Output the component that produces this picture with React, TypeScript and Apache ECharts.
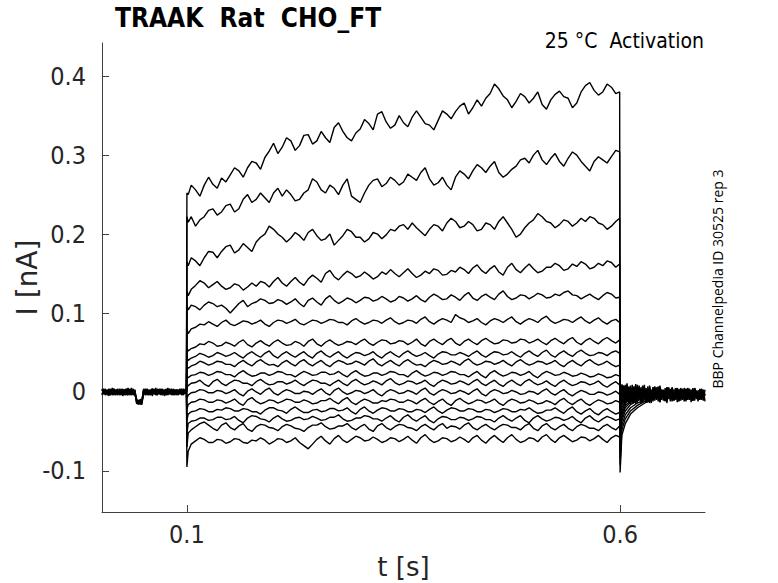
import React, { useEffect, useRef } from "react";
import * as echarts from "echarts";

// Currents in pA (nA * 1000).
// Pulse samples: first just after 0.1 s, then every 5 ms up to 0.6 s (101 values).
const traceA = [250,262,256,248,262,272,263,258,271,266,275,284,280,272,284,292,290,282,297,305,315,302,310,322,318,306,312,325,326,314,318,330,322,316,335,341,330,322,318,328,333,345,340,332,352,355,342,334,338,350,341,336,348,356,348,340,338,332,344,356,352,346,355,362,366,352,360,370,362,372,378,390,384,375,370,360,368,378,374,366,372,380,364,358,370,377,381,374,372,360,366,380,388,392,382,376,380,390,386,378,380];
const traceB = [215,222,210,218,222,230,232,224,228,236,238,228,232,244,250,240,244,252,246,240,252,258,248,256,250,242,244,252,256,270,266,256,252,262,258,250,262,270,248,244,240,252,262,268,270,260,264,272,268,262,266,276,272,268,278,284,270,262,265,272,262,256,272,280,276,270,280,288,284,278,286,292,278,272,276,282,286,294,296,290,300,306,294,288,296,302,292,286,296,304,300,292,286,280,292,298,294,290,298,306,304];
const traceC = [160,170,166,160,170,178,177,170,178,184,186,176,180,188,183,178,190,196,200,210,206,200,196,190,195,202,198,192,202,206,198,192,194,200,186,192,198,206,203,196,196,190,194,202,200,194,199,206,204,210,212,206,214,208,203,198,206,212,210,204,214,220,216,208,210,216,212,204,206,214,212,206,216,222,214,206,196,200,208,214,218,226,222,216,214,208,212,218,216,210,214,220,216,222,220,214,212,206,210,216,220];
const traceD = [122,130,135,141,138,132,136,140,134,130,132,137,135,129,133,138,134,140,138,133,140,145,138,134,140,145,139,135,143,148,144,139,150,154,146,142,148,153,150,145,147,152,148,143,146,152,149,155,150,146,151,156,150,145,148,153,150,156,154,148,149,154,152,158,155,150,157,161,154,150,156,160,152,148,158,163,155,151,157,162,156,151,153,158,158,163,160,154,156,162,159,165,162,156,158,163,160,166,164,158,162];
const traceE = [104,110,108,104,110,114,112,108,110,106,100,106,112,116,108,112,114,118,116,112,113,117,115,111,114,118,112,108,116,119,114,110,118,122,116,112,115,119,117,113,116,120,119,115,117,121,118,114,116,121,119,115,118,122,117,114,120,124,121,117,118,123,120,116,122,126,119,116,121,124,120,117,124,128,121,117,119,123,122,118,121,125,123,119,120,124,122,126,128,123,122,118,121,124,120,117,122,126,124,119,120];
const traceF = [74,80,82,86,85,89,86,83,88,91,86,84,87,90,89,86,88,91,86,83,88,91,90,87,89,92,87,85,88,91,90,87,89,92,91,88,88,85,90,93,89,86,88,91,90,87,91,94,89,86,88,91,90,87,92,95,89,86,90,93,91,88,98,94,92,88,90,93,88,85,90,93,91,88,92,95,89,86,90,93,91,88,93,96,90,87,89,92,91,88,92,95,90,87,91,94,89,86,90,92,88];
const traceG = [52,55,57,61,60,64,62,58,59,63,61,58,63,66,60,57,62,65,61,58,63,66,62,59,60,64,62,58,64,67,61,58,63,66,62,59,61,64,63,60,64,67,62,59,63,66,65,61,62,65,64,60,63,67,61,58,64,67,63,60,65,68,62,59,64,67,63,60,65,68,64,61,62,66,65,62,63,67,66,62,64,67,63,60,65,68,64,61,66,69,63,60,65,68,64,61,66,69,65,62,66];
const traceH = [40,43,45,49,47,44,46,50,48,45,47,50,46,43,48,51,47,44,49,52,46,43,48,51,47,44,48,51,46,43,49,52,47,44,48,51,46,43,47,50,49,46,48,51,46,43,48,51,47,44,49,52,48,45,47,50,46,43,48,51,50,47,47,50,48,45,49,52,47,44,48,51,50,47,48,51,47,44,49,52,48,45,50,53,47,44,49,52,48,45,50,53,49,46,47,50,49,46,50,52,49];
const traceI = [30,33,35,39,37,34,36,39,38,35,35,32,37,40,36,33,38,41,37,34,35,32,37,40,36,33,38,41,36,33,37,40,35,32,37,40,38,35,36,39,37,34,39,42,36,33,37,40,36,33,38,41,37,34,35,32,37,40,38,35,36,39,37,34,39,42,37,34,36,39,38,35,37,40,36,33,38,41,37,34,36,39,38,35,37,40,35,32,37,40,36,33,38,41,37,34,36,39,35,32,34];
const traceJ = [18,21,22,25,24,21,23,26,25,22,22,19,24,27,23,20,21,24,24,21,23,26,25,22,22,19,23,26,24,21,22,25,25,22,23,26,22,19,24,27,23,20,21,24,24,21,23,26,25,22,22,19,24,27,23,20,22,25,24,21,23,26,25,22,22,19,23,26,21,18,24,27,23,20,22,25,24,21,23,26,21,18,23,26,24,21,22,25,23,20,21,24,22,19,20,23,21,18,19,22,20];
const traceK = [8,11,12,15,10,7,13,16,11,8,12,15,14,11,11,8,13,16,12,9,10,13,13,10,12,15,11,8,12,15,14,11,11,8,12,15,11,8,13,16,12,9,11,14,12,9,14,17,12,9,11,14,13,10,12,15,10,7,12,15,13,10,11,14,12,9,13,16,11,8,12,15,10,7,12,15,11,8,13,16,12,9,11,14,10,7,12,15,11,8,10,13,12,9,11,14,9,6,10,13,9];
const traceL = [-4,-1,0,3,2,-1,-1,2,1,-2,0,3,-2,-5,1,4,0,-3,2,5,-1,-4,0,3,1,-2,-2,1,0,-3,1,4,-1,-4,2,5,0,-3,-1,2,1,-2,0,3,-2,-5,0,3,1,-2,-1,2,0,-3,2,5,-1,-4,0,3,1,-2,-1,2,0,-3,1,4,-2,-5,0,3,1,-2,-1,2,0,-3,-2,1,0,-3,1,4,-1,-4,0,3,-2,-5,-1,2,0,-3,-3,0,-1,-4,-2,1,-3];
const traceM = [-16,-13,-12,-9,-10,-13,-13,-10,-11,-14,-12,-9,-14,-17,-10,-7,-12,-15,-13,-10,-11,-14,-12,-9,-10,-13,-13,-10,-12,-15,-14,-11,-11,-8,-12,-15,-10,-7,-13,-16,-12,-9,-11,-14,-14,-11,-12,-9,-10,-13,-13,-10,-12,-15,-11,-8,-13,-16,-12,-9,-14,-17,-11,-8,-12,-15,-13,-10,-11,-14,-12,-9,-14,-17,-12,-9,-11,-14,-13,-10,-12,-15,-14,-11,-13,-16,-11,-8,-13,-16,-12,-9,-14,-17,-13,-10,-12,-15,-14,-11,-13];
const traceN = [-28,-25,-24,-21,-22,-25,-25,-22,-23,-20,-21,-24,-24,-21,-22,-25,-25,-28,-23,-20,-20,-23,-24,-27,-22,-19,-23,-26,-26,-23,-22,-25,-24,-21,-21,-24,-23,-20,-25,-28,-22,-19,-24,-27,-23,-20,-21,-24,-24,-21,-22,-25,-25,-22,-23,-26,-22,-19,-24,-27,-23,-20,-21,-24,-24,-21,-22,-25,-25,-22,-23,-26,-24,-21,-22,-25,-25,-22,-23,-20,-24,-27,-26,-23,-23,-20,-24,-27,-22,-19,-25,-28,-24,-21,-26,-29,-24,-21,-25,-28,-26];
const traceO = [-40,-37,-36,-33,-33,-36,-35,-32,-32,-35,-34,-31,-36,-39,-33,-30,-31,-34,-35,-38,-33,-30,-34,-37,-36,-33,-32,-35,-34,-31,-33,-36,-35,-32,-32,-29,-34,-37,-36,-33,-33,-30,-31,-34,-34,-37,-33,-30,-35,-38,-32,-29,-34,-37,-33,-30,-36,-39,-34,-31,-32,-35,-35,-32,-33,-36,-34,-31,-32,-35,-35,-38,-33,-30,-34,-37,-33,-30,-36,-39,-33,-30,-34,-37,-35,-32,-33,-36,-34,-31,-36,-39,-33,-30,-35,-38,-34,-31,-33,-36,-34];
const traceP = [-52,-48,-44,-40,-38,-42,-46,-49,-42,-39,-45,-48,-43,-40,-47,-50,-44,-41,-42,-45,-46,-49,-44,-41,-43,-46,-47,-50,-45,-42,-42,-39,-44,-47,-46,-43,-43,-40,-45,-48,-44,-41,-47,-50,-43,-40,-45,-48,-44,-41,-42,-45,-46,-49,-44,-41,-45,-48,-43,-40,-46,-43,-44,-47,-42,-39,-45,-48,-44,-41,-45,-48,-44,-41,-42,-45,-45,-48,-43,-40,-46,-49,-43,-40,-45,-48,-44,-41,-46,-49,-44,-41,-43,-46,-46,-49,-44,-41,-45,-48,-43];
const traceQ = [-75,-66,-62,-58,-60,-64,-64,-60,-61,-65,-63,-59,-60,-64,-65,-61,-62,-58,-61,-66,-63,-59,-60,-64,-62,-58,-64,-68,-72,-66,-60,-56,-62,-66,-59,-55,-61,-64,-60,-56,-58,-62,-61,-57,-60,-64,-62,-58,-59,-63,-60,-56,-61,-65,-58,-54,-60,-64,-62,-58,-59,-63,-61,-57,-60,-64,-58,-55,-61,-65,-59,-55,-60,-64,-58,-54,-60,-64,-62,-58,-59,-63,-57,-54,-60,-64,-58,-55,-59,-63,-61,-57,-58,-62,-59,-55,-60,-64,-58,-55,-57];

// Capacitive spike at step onset (t = 0.1 s), per trace A..Q
const onsetPeak = [252,222,165,128,110,80,56,44,32,20,6,-8,-22,-36,-52,-70,-95];
// Spike at step end (t = 0.6 s), per trace A..Q
const endSpike = [-102,-92,-84,-76,-68,-60,-52,-45,-38,-32,-26,-20,-16,-12,-8,-4,0];
// Tail currents after the step, at tailTimes
const tailTimes = [0.602, 0.606, 0.612, 0.62, 0.63, 0.64];
const tails = [
  [-55,-40,-28,-20,-13,-8],
  [-48,-34,-24,-17,-11,-6],
  [-42,-29,-20,-14,-9,-5],
  [-36,-24,-16,-11,-7,-3],
  [-32,-20,-13,-8,-5,-2],
  [-28,-17,-11,-7,-4,-2],
  [-24,-14,-9,-6,-3,-1],
  [-20,-12,-8,-5,-3,0],
  [-16,-10,-6,-4,-2,1],
  [-12,-8,-5,-3,-1,2],
  [-9,-6,-4,-2,0,1],
  [-6,-4,-2,-1,1,2],
  [-3,-2,-1,0,2,1],
  [0,1,0,1,2,0],
  [3,2,1,2,1,0],
  [5,4,3,2,1,-1],
  [8,6,4,2,1,-1],
];

// Holding current before the step (every 2 ms from 0.002 s), overlapping sweeps
const preTimeStart = 0.002;
const preBand1 = [3,-2,4,-4,2,-3,5,-1,-4,3,-2,4,-5,1,3,-3,2,-4,4,-1,-9,-15,-11,-14,1,-3,4,-2,3,-5,2,-1,4,-3,1,-4,3,-2,5,-3,2,-4,1,3,-2,4,-3,2,-1];
const preBand2 = [-4,3,-1,2,-5,4,-2,3,1,-4,4,-3,2,-1,-4,5,-2,3,-3,2,-14,-10,-16,-12,-3,4,-1,2,-4,3,-2,5,-3,1,-2,4,-5,2,-1,3,-4,4,-2,1,3,-3,2,-4,4];
const preBand3 = [1,4,-3,-1,4,-2,1,-4,3,2,-3,1,4,-4,-1,3,-3,5,-2,-3,-11,-16,-9,-13,4,-2,1,-4,2,4,-3,1,-2,3,-4,2,1,-3,4,-2,-1,3,-4,2,-1,3,-4,1,-2];
const preBand4 = [-2,0,3,-3,1,-4,2,4,-2,-1,2,-4,3,1,-2,4,-4,1,-3,3,-13,-12,-15,-10,2,-4,-1,3,-3,1,4,-4,2,-1,3,-3,-1,4,-4,2,1,-3,3,-4,2,0,-2,3,-3];
const preBand5 = [4,-3,2,1,-3,3,-4,2,-1,4,-4,2,-1,3,-2,-4,4,-1,2,-4,-10,-14,-13,-16,-1,3,-4,2,1,-3,3,-2,-4,4,-1,3,-3,1,-2,4,-3,2,-1,3,-4,1,4,-2,3];
const preBand6 = [-3,2,-4,3,0,-2,4,-3,2,-3,3,-1,-3,2,4,-2,-1,3,-4,1,-15,-11,-12,-14,3,-1,2,-3,-2,4,-1,-3,3,-2,4,-2,2,-4,1,-1,4,-2,3,-3,-1,2,-3,4,-2];

// Holding current after the step (every 2 ms from 0.602 s), overlapping sweeps
const postTimeStart = 0.602;
const postBand1 = [6,-14,4,-12,7,-10,5,-13,3,-11,6,-12,4,-10,5,-13,3,-11,6,-9,4,-12,5,-10,3,-11,5,-9,4,-12,3,-10,5,-11,4,-9,2,-12,4,-10,3,-11,4,-9,2,-10,4,-11,3];
const postBand2 = [-16,5,-11,8,-14,4,-12,7,-15,5,-10,6,-13,4,-11,7,-14,3,-12,5,-10,6,-13,3,-11,5,-14,4,-12,3,-10,5,-13,4,-11,2,-12,4,-10,3,-13,5,-11,2,-12,4,-10,3,-12];
const postBand3 = [2,-8,9,-4,-9,8,-6,1,-10,9,-5,-2,7,-8,1,-11,7,-4,-6,6,-3,-8,5,-5,-1,-10,6,-3,-7,5,-2,-9,4,-4,0,-10,5,-3,-7,4,-2,-9,5,-3,-1,-8,4,-4,-2];
const postBand4 = [-8,8,-17,3,1,-15,9,-5,2,-14,8,-7,-3,6,-13,2,-1,-14,6,-4,-7,7,-13,1,-1,-12,6,-5,-2,5,-11,1,-3,-12,5,-4,-6,4,-10,0,-2,-11,5,-5,-3,3,-10,1,-4];
const postBand5 = [10,-5,-3,-11,6,-4,-14,7,-3,-6,5,-15,8,-5,-1,-13,8,-6,2,-11,6,-3,-9,3,-7,-2,-12,6,-4,0,-11,5,-6,-2,-9,4,-3,-10,5,-5,-1,-11,4,-6,-2,-9,3,-5,-3];
const postBand6 = [-10,1,-6,11,-9,0,3,-14,10,-2,-8,2,-5,9,-14,5,-7,1,-10,7,-5,-2,8,-6,2,-11,4,-3,-8,6,-5,-1,5,-9,2,-6,3,-10,5,-4,1,-8,4,-6,-1,3,-9,2,-5];

const yTicks = [-0.1, 0, 0.1, 0.2, 0.3, 0.4];
const xTicks = [0.1, 0.6];

const TITLE = "TRAAK  Rat  CHO_FT";
const SUBTITLE = "25 °C  Activation";
const SIDE = "BBP Channelpedia ID 30525 rep 3";

const FONT = "'DejaVu Sans Condensed', 'DejaVu Sans', sans-serif";
const FONT_REG = "'DejaVu Sans', sans-serif";

const pulseTraces = [traceA,traceB,traceC,traceD,traceE,traceF,traceG,traceH,traceI,traceJ,traceK,traceL,traceM,traceN,traceO,traceP,traceQ];
const preBands = [preBand1,preBand2,preBand3,preBand4,preBand5,preBand6];
const postBands = [postBand1,postBand2,postBand3,postBand4,postBand5,postBand6];

function pulseTime(k: number, n: number) {
  if (k === 0) return 0.1015;
  if (k === n - 1) return 0.5995;
  return 0.1 + 0.005 * k;
}

function buildSeries() {
  const series: any[] = [];
  const lineStyle = { color: "#000", width: 1.4 };
  preBands.forEach((b) => {
    series.push({
      type: "line", showSymbol: false, silent: true, lineStyle,
      data: b.map((v, i) => [preTimeStart + 0.002 * i, v / 1000]),
    });
  });
  postBands.forEach((b) => {
    series.push({
      type: "line", showSymbol: false, silent: true, lineStyle,
      data: b.map((v, i) => [postTimeStart + 0.002 * i, v / 1000]),
    });
  });
  pulseTraces.forEach((tr, idx) => {
    const d: number[][] = [];
    d.push([0.0995, 0]);
    d.push([0.1, onsetPeak[idx] / 1000]);
    tr.forEach((v, k) => d.push([pulseTime(k, tr.length), v / 1000]));
    d.push([0.6, endSpike[idx] / 1000]);
    tails[idx].forEach((v, k) => d.push([tailTimes[k], v / 1000]));
    series.push({ type: "line", showSymbol: false, silent: true, lineStyle, data: d });
  });
  return series;
}

export default function App() {
  const ref = useRef<HTMLDivElement>(null);
  useEffect(() => {
    if (!ref.current) return;
    const chart = echarts.init(ref.current, undefined, { renderer: "svg" });
    const axisColor = "#404040";
    const labelColor = "#262626";
    chart.setOption({
      animation: false,
      backgroundColor: "#fff",
      title: {
        text: TITLE, left: 115, top: 5, padding: 0,
        textStyle: { fontFamily: FONT, fontSize: 26, fontWeight: "bold", color: "#000" },
      },
      grid: { left: 102, right: 73, top: 43, bottom: 71, containLabel: false, outerBoundsMode: "none" },
      xAxis: {
        type: "value", min: 0.002, max: 0.698,
        name: "t [s]", nameLocation: "middle", nameGap: 42, nameMoveOverlap: false,
        nameTextStyle: { fontFamily: FONT_REG, fontSize: 26, color: labelColor },
        axisLine: { onZero: false, lineStyle: { color: axisColor, width: 1 } },
        axisTick: { inside: true, length: 7, customValues: xTicks, lineStyle: { color: axisColor } },
        axisLabel: { customValues: xTicks, fontFamily: FONT, fontSize: 25, color: labelColor, margin: 10,
          formatter: (v: number) => String(Number(v.toFixed(1))) },
        splitLine: { show: false },
      },
      yAxis: {
        type: "value", min: -0.152, max: 0.442,
        name: "I [nA]", nameLocation: "middle", nameGap: 61, nameMoveOverlap: false,
        nameTextStyle: { fontFamily: FONT_REG, fontSize: 28, color: labelColor },
        axisLine: { show: true, onZero: false, lineStyle: { color: axisColor, width: 1 } },
        axisTick: { show: true, inside: true, length: 7, customValues: yTicks, lineStyle: { color: axisColor } },
        axisLabel: { customValues: yTicks, fontFamily: FONT, fontSize: 25, color: labelColor, margin: 16,
          formatter: (v: number) => String(Number(v.toFixed(1))) },
        splitLine: { show: false },
      },
      graphic: [
        {
          type: "text", x: 704, y: 41,
          style: { text: SUBTITLE, fontFamily: FONT, fontSize: 21, fill: "#000", align: "right", verticalAlign: "middle" },
        },
        {
          type: "text", x: 717, y: 279, rotation: Math.PI / 2,
          style: { text: SIDE, fontFamily: "'Open Sans', 'DejaVu Sans', sans-serif", fontSize: 14, fill: "#000", align: "center", verticalAlign: "middle" },
        },
      ],
      series: buildSeries(),
    });
    return () => chart.dispose();
  }, []);
  return <div ref={ref} style={{ position: "fixed", left: 0, top: 0, width: 778, height: 583 }} />;
}
